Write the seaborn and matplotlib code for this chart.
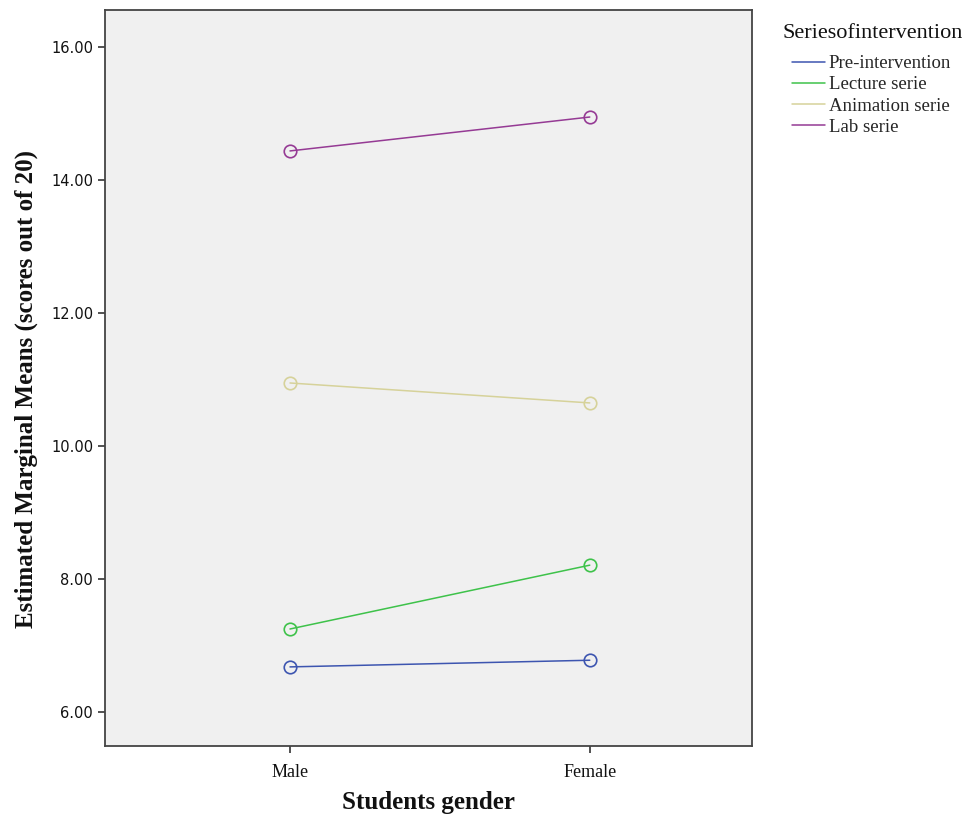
import pandas as pd
import seaborn as sns
import matplotlib.pyplot as plt


# Estimated marginal means

genders = ["Male", "Female"]
series_names = ["Pre-intervention", "Lecture serie", "Animation serie", "Lab serie"]
pre_means = [6.68, 6.78]
lecture_means = [7.25, 8.21]
animation_means = [10.95, 10.65]
lab_means = [14.44, 14.95]
y_ticks = [6, 8, 10, 12, 14, 16]

colors = ["#3d55b0", "#3ec24a", "#d6d29a", "#953a94"]

rows = []
for name, vals in zip(series_names, [pre_means, lecture_means, animation_means, lab_means]):
    for g, v in zip(genders, vals):
        rows.append({"gender": g, "series": name, "mean": v})
df = pd.DataFrame(rows)


# Plot

sns.set_style("white")
plt.rcParams["font.family"] = ["Liberation Serif", "DejaVu Serif"]

W, H = 968, 818
fig = plt.figure(figsize=(W / 100, H / 100), dpi=100)
ax = fig.add_axes([0.1085, 0.088, 0.668, 0.8998])
ax.set_facecolor("#f0f0f0")

sns.lineplot(data=df, x="gender", y="mean", hue="series", hue_order=series_names,
             palette=colors, marker="o", markersize=9, markerfacecolor="none",
             markeredgewidth=1.2, linewidth=1.1, ax=ax, sort=False)

# markers need the line colour as edge colour
for line, c in zip(ax.lines, colors):
    line.set_markeredgecolor(c)

ax.set_xlim(-0.617, 1.54)
ax.set_ylim(5.49, 16.56)
ax.set_yticks(y_ticks)
ax.set_yticklabels([f"{t:.2f}" for t in y_ticks], fontfamily="DejaVu Sans", fontsize=10.5)
ax.set_xticks([0, 1])
ax.set_xticklabels(genders, fontsize=13)
ax.tick_params(axis="both", direction="out", length=5, width=1.2, colors="#333333", left=True, bottom=True)
ax.tick_params(axis="x", pad=8)
for lab in ax.get_xticklabels() + ax.get_yticklabels():
    lab.set_color("#111111")

for s in ax.spines.values():
    s.set_color("#444444")
    s.set_linewidth(1.3)

ax.set_xlabel("Students gender", fontsize=18, fontweight="bold", labelpad=7, color="#111111")
ax.set_ylabel("Estimated Marginal Means (scores out of 20)", fontsize=18, fontweight="bold",
              color="#111111")
ax.yaxis.set_label_coords(-0.103, 0.485)

# legend outside on the right, title set a bit left of the entries
handles, labels = ax.get_legend_handles_labels()
ax.get_legend().remove()
for h in handles:
    h.set_marker("")
fig.text(783 / W, 1 - 34 / H, "Seriesofintervention", fontsize=16, va="center", ha="left", color="#111111")
fig.legend(handles, labels, loc="upper left", bbox_to_anchor=(792 / W, 1 - 55 / H),
           frameon=False, fontsize=13.5, handlelength=1.75, handletextpad=0.2,
           labelspacing=0.22, borderpad=0, borderaxespad=0)

fig.savefig("out.png", dpi=100)
